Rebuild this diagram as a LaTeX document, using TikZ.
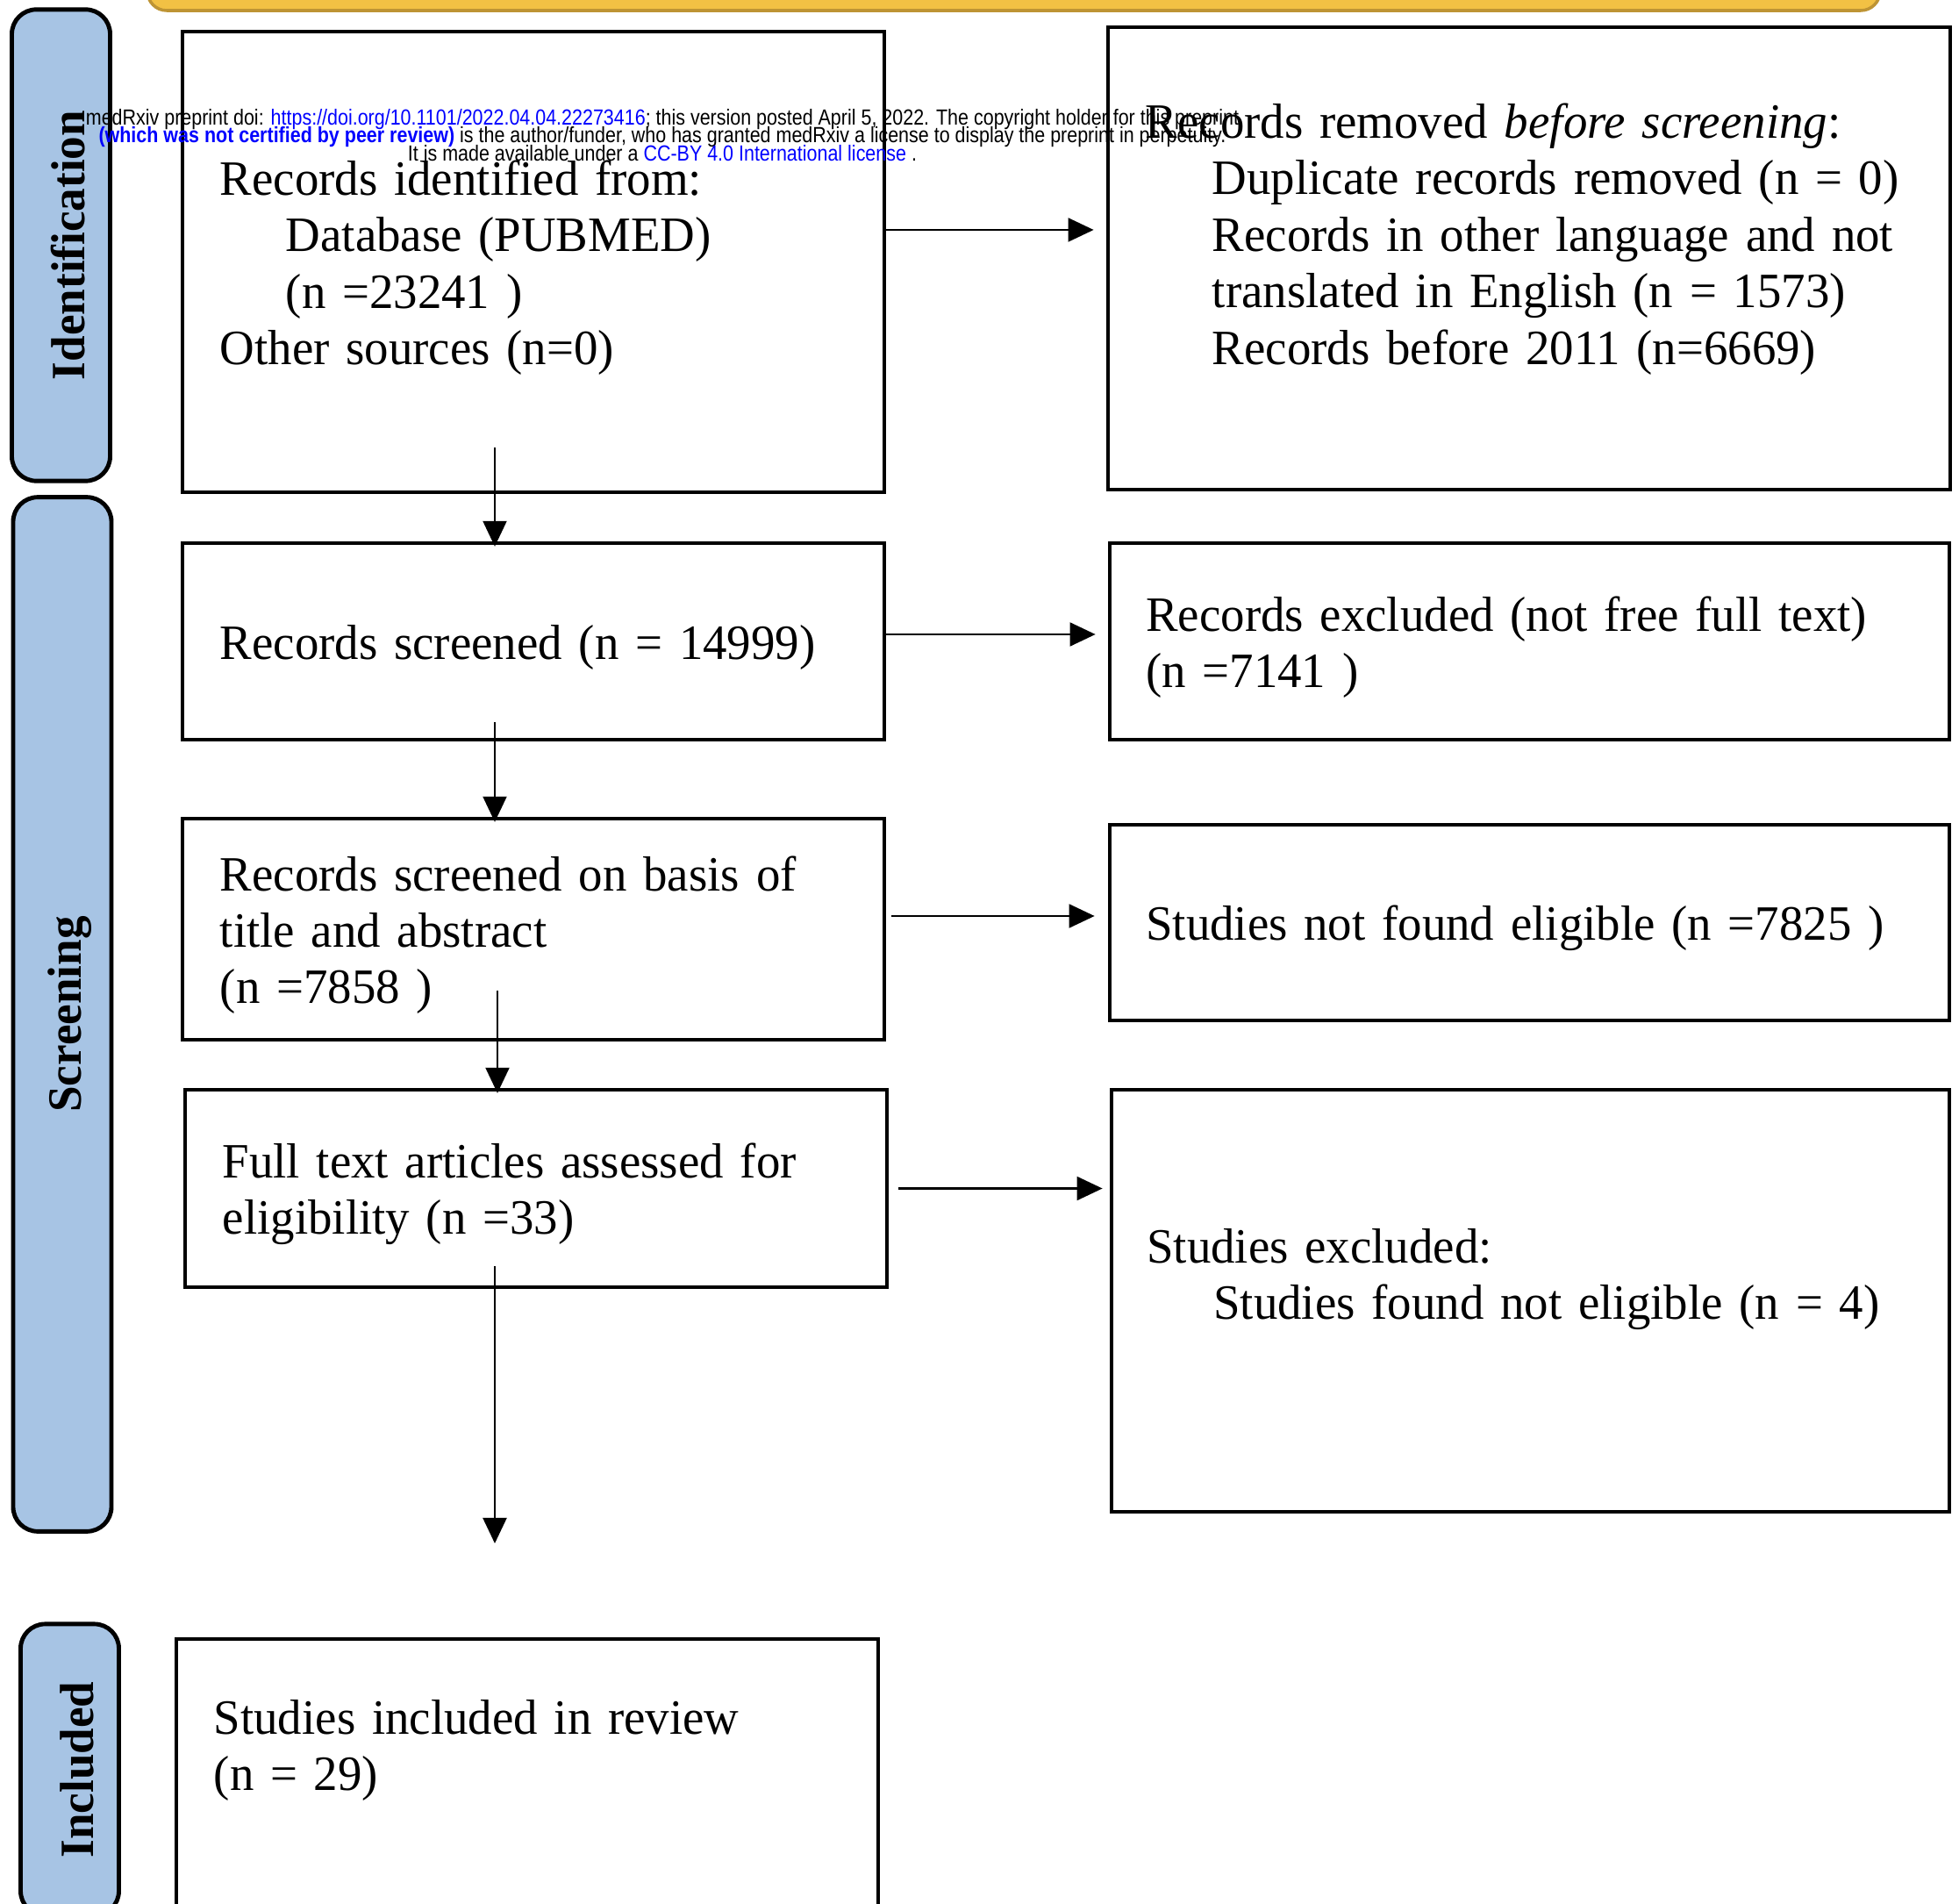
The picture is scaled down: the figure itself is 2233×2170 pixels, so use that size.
\documentclass[tikz,border=0pt]{standalone}
\usepackage{fontspec}
\setmainfont[WordSpace=0.8,FakeStretch=0.975]{Liberation Serif}
\newfontfamily\hdrfont[FakeStretch=0.86]{Liberation Sans}
\usetikzlibrary{arrows.meta}
\definecolor{sideblue}{RGB}{167,196,228}
\definecolor{baryellow}{RGB}{242,193,68}
\definecolor{baredge}{RGB}{190,148,52}
\definecolor{linkblue}{RGB}{0,0,255}
\newcommand{\lowpad}[1]{\rule[-#1]{0pt}{0pt}}
\newcommand{\noticefont}{\hdrfont\fontsize{7.1}{5.9}\selectfont\lineskiplimit=-10pt\relax}
\begin{document}
\begin{tikzpicture}[x=0.01cm,y=-0.01cm,
  box/.style={draw=black,line width=1.2pt,fill=white,align=left,inner sep=0pt,
    font=\fontsize{16}{18.3}\selectfont,execute at begin node={\rule{0pt}{15pt}}},
  lbox/.style={box,minimum width=8cm,text width=7.14cm},
  rbox/.style={box,minimum width=9.6cm,text width=8.74cm},
  side/.style={draw=black,line width=1.4pt,fill=sideblue,rounded corners=0.28cm,
    rotate=90,inner sep=0pt,minimum height=1.12cm,font=\fontsize{15.5}{18}\selectfont\bfseries,
    execute at begin node={\rule{0pt}{15.5pt}}},
  arr/.style={line width=0.6pt,-{Triangle[length=2.9mm,width=2.7mm]}}]
\path[use as bounding box,clip] (0,0) rectangle (2233,2170);
\fill[white] (0,0) rectangle (2233,2170);

% top bar
\draw[fill=baryellow,draw=baredge,line width=1pt,rounded corners=0.22cm] (168,-60) rectangle (2143,12);

% phase labels
\node[side,minimum width=5.37cm] (ident) at (69.5,279.5) {Identification};
\node[side,minimum width=11.78cm] (screen) at (71,1156) {Screening};
\node[side,minimum width=3.32cm] (incl) at (79.5,2017) {Included};

% left column
\node[lbox,minimum height=5.25cm] (idrec) at (608,298.5) {Records identified from:\\
  \hspace*{0.75cm}Database (PUBMED)\\
  \hspace*{0.75cm}(n =23241 )\\
  Other sources (n=0)};
\node[lbox,minimum height=2.24cm] (scr) at (608,731) {Records screened (n = 14999)};
\node[lbox,minimum height=2.52cm] (scrta) at (608,1059) {Records screened on basis of\\
  title and abstract\\
  (n =7858 )};
\node[lbox,minimum height=2.25cm] (full) at (611,1354.5) {Full text articles assessed for\\
  eligibility (n =33)};
\node[lbox,minimum height=3.34cm,anchor=north] (increv) at (601,1866) {Studies included in review\\
  (n = 29)\lowpad{1.06cm}};

% right column
\node[rbox,minimum height=5.27cm] (rem) at (1743,294.5) {Records removed \textit{before screening}:\\
  \hspace*{0.76cm}\mbox{Duplicate records removed (n = 0)}\\
  \hspace*{0.76cm}\mbox{Records in other language and not}\\
  \hspace*{0.76cm}\mbox{translated in English (n = 1573)}\\
  \hspace*{0.76cm}Records before 2011 (n=6669)\lowpad{0.69cm}};
\node[rbox,minimum width=9.57cm,minimum height=2.24cm] (excl) at (1743.5,731) {Records excluded (not free full text)\\
  (n =7141 )};
\node[rbox,minimum width=9.57cm,minimum height=2.23cm] (notel) at (1743.5,1051.5) {Studies not found eligible (n =7825 )};
\node[rbox,minimum width=9.55cm,minimum height=4.81cm] (stex) at (1744.5,1482.5) {Studies excluded:\\
  \hspace*{0.76cm}Studies found not eligible (n = 4)\lowpad{0.75cm}};

% arrows
\draw[arr,shorten >=1.4mm] ([yshift=3.65mm]idrec.east) -- ([yshift=3.65mm]idrec.east -| rem.west);
\draw[arr,shorten >=1.4mm] ([yshift=0.8mm]scr.east) -- ([yshift=0.8mm]scr.east -| excl.west);
\draw[arr,shorten <=0.6mm,shorten >=1.5mm] ([yshift=1.5mm]scrta.east) -- ([yshift=1.5mm]scrta.east -| notel.west);
\draw[arr,shorten <=1.1mm,shorten >=0.8mm] (full.east) -- (full.east -| stex.west);

\coordinate (v1) at (564,510);
\coordinate (v2) at (564,823);
\coordinate (v3) at (567,1129);
\coordinate (v4) at (564,1443);
\coordinate (v4end) at (564,1759);
\draw[arr,shorten >=-0.6mm] (v1) -- (v1 |- scr.north);
\draw[arr,shorten >=-0.6mm] (v2) -- (v2 |- scrta.north);
\draw[arr,shorten >=-0.6mm] (v3) -- (v3 |- full.north);
\draw[arr] (v4) -- (v4end);

% preprint notice
\node[font=\noticefont,align=center,inner sep=0pt] (notice) at (755,154)
  {medRxiv preprint doi: \textcolor{linkblue}{https://doi.org/10.1101/2022.04.04.22273416}; this version posted April 5, 2022. The copyright holder for this preprint\\
  \textcolor{linkblue}{\bfseries(which was not certified by peer review)} is the author/funder, who has granted medRxiv a license to display the preprint in perpetuity.\\
  It is made available under a \textcolor{linkblue}{CC-BY 4.0 International license} .};
\end{tikzpicture}
\end{document}
